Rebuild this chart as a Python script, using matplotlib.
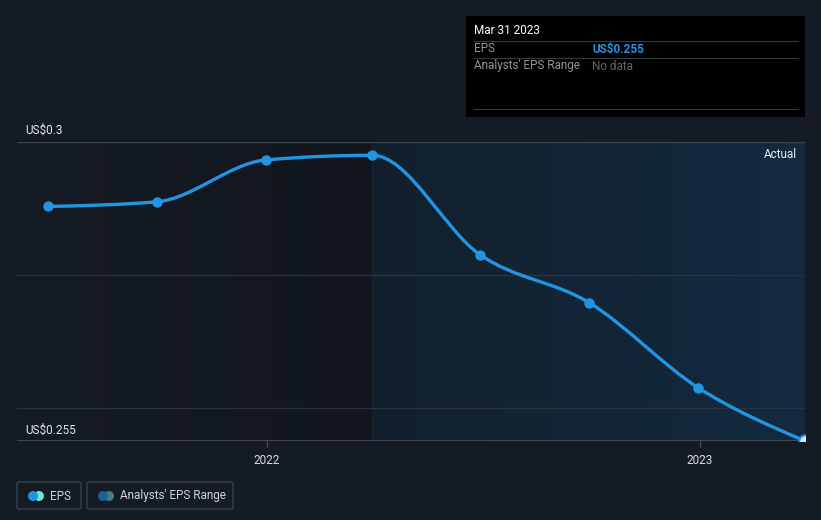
import numpy as np
import matplotlib
matplotlib.use("Agg")
import matplotlib.pyplot as plt
import matplotlib.dates as mdates
from matplotlib.path import Path
from matplotlib.patches import PathPatch, FancyBboxPatch, Rectangle, Ellipse
from matplotlib.lines import Line2D
from matplotlib.colors import LinearSegmentedColormap
import datetime as dt

plt.rcParams['font.family'] = ['Roboto', 'DejaVu Sans']

# ---- data ----
dates = ["2021-06-30", "2021-09-30", "2021-12-31", "2022-03-31",
         "2022-06-30", "2022-09-30", "2022-12-31", "2023-03-31"]
eps = [0.2903, 0.2910, 0.2973, 0.2980, 0.2830, 0.2758, 0.2630, 0.2550]
y_ticks = [0.255, 0.3]
y_tick_labels = ["US$0.255", "US$0.3"]
grid_vals = [0.26, 0.28]
x_ticks = ["2022-01-01", "2023-01-01"]
x_tick_labels = ["2022", "2023"]
actual_start = "2022-03-31"

BG = "#151b25"
LINE = "#2394e0"

fig = plt.figure(figsize=(8.21, 5.2), dpi=100, facecolor=BG)
ax = fig.add_axes([17/821, 1-441/520, (805-17)/821, (441-142)/520])
ax.set_facecolor(BG)

x = mdates.date2num([dt.datetime.fromisoformat(d) for d in dates])
y = np.array(eps)
xmin = mdates.date2num(dt.datetime(2021, 6, 4))
xmax = x[-1]
ymin, ymax = 0.255, 0.3

xa = mdates.date2num(dt.datetime.fromisoformat(actual_start))

# background gradients
grad = np.linspace(0, 1, 256).reshape(1, -1)
cm_l = LinearSegmentedColormap.from_list("l", ["#151b25", "#11161e"])
ax.imshow(grad, extent=[xmin, xa, ymin, ymax], aspect="auto", cmap=cm_l, zorder=0)
cm_r = LinearSegmentedColormap.from_list("r", ["#12202d", "#132a40"])
ax.imshow(grad, extent=[xa, xmax, ymin, ymax], aspect="auto", cmap=cm_r, zorder=0)
ax.axvline(xa, color="#16232f", lw=1, zorder=1)
ax.set_xlim(xmin, xmax)
ax.set_ylim(ymin, ymax)

# grid
for g in grid_vals:
    ax.axhline(g, color="#2a323d", lw=1, zorder=1)
ax.axhline(ymax, color="#3b424c", lw=1, zorder=1)
ax.axhline(ymin, color="#4a515b", lw=1.2, zorder=1)

# monotone cubic path (d3 curveMonotoneX style)
h = np.diff(x)
s = np.diff(y) / h
m = np.zeros_like(y)
for i in range(1, len(y) - 1):
    s0, s1 = s[i-1], s[i]
    p = (s0 * h[i] + s1 * h[i-1]) / (h[i-1] + h[i])
    m[i] = (np.sign(s0) + np.sign(s1)) * min(abs(s0), abs(s1), 0.5 * abs(p))
m[0] = (3 * s[0] - m[1]) / 2
m[-1] = (3 * s[-1] - m[-2]) / 2
verts = [(x[0], y[0])]
codes = [Path.MOVETO]
for i in range(len(x) - 1):
    d = h[i] / 3
    verts += [(x[i] + d, y[i] + m[i] * d), (x[i+1] - d, y[i+1] - m[i+1] * d), (x[i+1], y[i+1])]
    codes += [Path.CURVE4] * 3
ax.add_patch(PathPatch(Path(verts, codes), fill=False, edgecolor=LINE, lw=2.4,
                       capstyle="round", zorder=3))
ax.plot(x[:-1], y[:-1], "o", color=LINE, ms=6.5, zorder=4)
ax.plot(x[-1], y[-1], "o", mfc="#cfe8fb", mec=LINE, mew=1.5, ms=9, zorder=4)

for sp in ax.spines.values():
    sp.set_visible(False)
ax.set_yticks([])
xt = mdates.date2num([dt.datetime.fromisoformat(d) for d in x_ticks])
ax.set_xticks(xt)
ax.set_xticklabels(x_tick_labels, color="#d8dbe0", fontsize=8.5)
ax.tick_params(axis="x", length=4, color="#4a515b", pad=5)

# y labels
fig.text(25/821, 1-130/520, y_tick_labels[1], fontsize=8.5, color="#e2e5e9", va="center")
fig.text(25/821, 1-430/520, y_tick_labels[0], fontsize=8.5, color="#e2e5e9", va="center")

fig.text(797/821, 1-154/520, "Actual", fontsize=8.5, color="#e8ebef", ha="right", va="center")

# tooltip
fig.patches.append(Rectangle((466/821, 1-117/520), (805-466)/821, (117-16)/520,
                             transform=fig.transFigure, facecolor="#000000", edgecolor="none"))
for yy in [41, 58, 109]:
    fig.lines.append(Line2D([474/821, 798/821], [1-yy/520]*2,
                     transform=fig.transFigure, color="#35393f", lw=0.8))
fig.text(474/821, 1-31/520, "Mar 31 2023", fontsize=8.5, color="#ffffff", va="center")
fig.text(474/821, 1-49/520, "EPS", fontsize=8.5, color="#9096a0", va="center")
fig.text(592/821, 1-49/520, "US$0.255", fontsize=8.5, color="#2394e0", va="center", fontweight="bold")
fig.text(474/821, 1-66/520, "Analysts' EPS Range", fontsize=8.5, color="#9096a0", va="center")
fig.text(592/821, 1-66/520, "No data", fontsize=8.5, color="#5f656e", va="center")

# legend
def legend_box(x0, x1, c1, c2, label, tx):
    fig.patches.append(FancyBboxPatch((x0/821, 1-509/520), (x1-x0)/821, 27/520,
                       boxstyle="round,pad=0,rounding_size=0.003", transform=fig.transFigure,
                       facecolor="none", edgecolor="#3a404a", lw=1))
    fig.patches.append(Ellipse(((x0+22)/821, 1-496/520), 10/821, 10/520,
                       transform=fig.transFigure, facecolor=c2, edgecolor="none"))
    fig.patches.append(Ellipse(((x0+16)/821, 1-496/520), 10/821, 10/520,
                       transform=fig.transFigure, facecolor=c1, edgecolor="none"))
    fig.text(tx/821, 1-496/520, label, fontsize=8.5, color="#cfd3d8", va="center")

legend_box(17, 81, "#2394e0", "#6ee0d5", "EPS", 50)
legend_box(87, 233, "#1d5f8f", "#3f8088", "Analysts' EPS Range", 120)

fig.savefig("out.png", dpi=100, facecolor=BG)
